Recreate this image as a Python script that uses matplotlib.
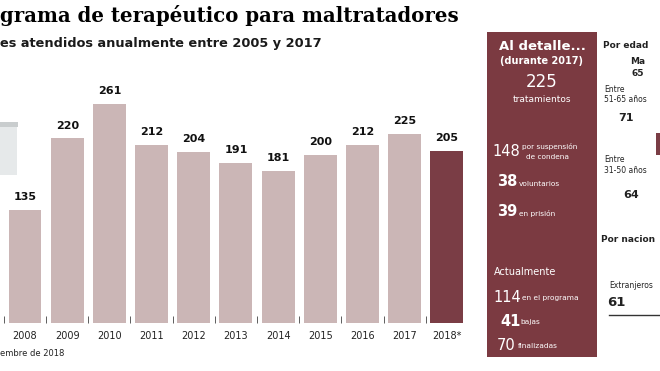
import matplotlib
matplotlib.use('Agg')
import matplotlib.pyplot as plt
from matplotlib.patches import Rectangle

# Datos
years = ['2008', '2009', '2010', '2011', '2012', '2013', '2014', '2015', '2016', '2017', '2018*']
values = [135, 220, 261, 212, 204, 191, 181, 200, 212, 225, 205]

light = '#cbb6b6'
dark = '#7a3d45'
panel = '#7b3a41'

W, H = 660, 371

def px(x, y):
    # coordenadas en pixeles (origen arriba a la izquierda) -> fraccion de figura
    return x / W, 1 - y / H

fig = plt.figure(figsize=(6.6, 3.71), dpi=100)
fig.patch.set_facecolor('white')

# Grafico de barras
ax = fig.add_axes([0, 48 / H, 470 / W, 263 / H])
colors = [light] * (len(values) - 1) + [dark]
x = list(range(len(values)))
ax.bar(x, values, width=0.78, color=colors)
for xi, v in zip(x, values):
    ax.text(xi, v + 9, str(v), ha='center', va='bottom', fontsize=8,
            fontweight='bold', color='#111111')
ax.set_xlim(-0.593, 10.55)
ax.set_ylim(0, 313)
ax.set_xticks(x)
ax.set_xticklabels(years, fontsize=7, color='#222222')
ax.set_xticks([i - 0.5 for i in x], minor=True)
ax.tick_params(axis='x', which='major', length=0, pad=6)
ax.tick_params(axis='x', which='minor', length=5, direction='in', color='#444444')
ax.set_yticks([])
for s in ax.spines.values():
    s.set_visible(False)

# Titulos
fig.text(*px(0, 15), 'grama de terapéutico para maltratadores', fontsize=14.2,
         fontweight='heavy', family='DejaVu Serif', va='center', ha='left', color='#000000')
fig.text(*px(0, 44), 'es atendidos anualmente entre 2005 y 2017', fontsize=9.3,
         fontweight='bold', va='center', ha='left', color='#1a1a1a')
fig.text(*px(0, 353), 'embre de 2018', fontsize=6, va='center', ha='left', color='#222222')

# Caja gris recortada a la izquierda
fig.patches.append(Rectangle(px(0, 175), 17 / W, 50 / H, transform=fig.transFigure,
                             facecolor='#e6e9ea', edgecolor='none'))
fig.patches.append(Rectangle(px(0, 127), 18 / W, 5 / H, transform=fig.transFigure,
                             facecolor='#c9cdce', edgecolor='none'))

# Panel "Al detalle..."
fig.patches.append(Rectangle(px(487, 357), 110 / W, 325 / H, transform=fig.transFigure,
                             facecolor=panel, edgecolor='none'))
wt = dict(color='white', va='center')
fig.text(*px(542, 46), 'Al detalle...', fontsize=9.5, fontweight='bold', ha='center', **wt)
fig.text(*px(542, 61), '(durante 2017)', fontsize=7, fontweight='bold', ha='center', **wt)
fig.text(*px(542, 82), '225', fontsize=12, ha='center', **wt)
fig.text(*px(542, 100), 'tratamientos', fontsize=6.5, ha='center', **wt)

fig.text(*px(492, 152), '148', fontsize=10.5, ha='left', **wt)
fig.text(*px(522, 147), 'por suspensión', fontsize=5.3, ha='left', **wt)
fig.text(*px(526, 157), 'de condena', fontsize=5.3, ha='left', **wt)
fig.text(*px(497, 182), '38', fontsize=10.5, fontweight='bold', ha='left', **wt)
fig.text(*px(519, 184), 'voluntarios', fontsize=5.3, ha='left', **wt)
fig.text(*px(497, 212), '39', fontsize=10.5, fontweight='bold', ha='left', **wt)
fig.text(*px(519, 214), 'en prisión', fontsize=5.3, ha='left', **wt)

fig.text(*px(494, 272), 'Actualmente', fontsize=7, ha='left', **wt)
fig.text(*px(493, 297), '114', fontsize=10.5, ha='left', **wt)
fig.text(*px(522, 298), 'en el programa', fontsize=5.3, ha='left', **wt)
fig.text(*px(500, 321), '41', fontsize=10.5, fontweight='bold', ha='left', **wt)
fig.text(*px(520, 322), 'bajas', fontsize=5.3, ha='left', **wt)
fig.text(*px(497, 345), '70', fontsize=10.5, ha='left', **wt)
fig.text(*px(518, 346), 'finalizadas', fontsize=5.3, ha='left', **wt)

# Columna derecha (recortada en el original)
kt = dict(color='#222222', va='center', ha='left')
fig.text(*px(603, 45), 'Por edad', fontsize=6.5, fontweight='bold', **kt)
fig.text(*px(630, 61), 'Ma', fontsize=6.5, fontweight='bold', **kt)
fig.text(*px(631, 73), '65', fontsize=6.5, fontweight='bold', **kt)
fig.text(*px(604, 89), 'Entre', fontsize=5.5, **kt)
fig.text(*px(604, 99), '51-65 años', fontsize=5.5, **kt)
fig.text(*px(618, 118), '71', fontsize=8, fontweight='bold', **kt)
fig.text(*px(604, 160), 'Entre', fontsize=5.5, **kt)
fig.text(*px(604, 171), '31-50 años', fontsize=5.5, **kt)
fig.text(*px(623, 195), '64', fontsize=8, fontweight='bold', **kt)
fig.text(*px(601, 240), 'Por nacion', fontsize=6.5, fontweight='bold', **kt)
fig.text(*px(609, 285), 'Extranjeros', fontsize=5.5, **kt)
fig.text(*px(607, 302), '61', fontsize=9.5, fontweight='bold', **kt)
fig.patches.append(Rectangle(px(656, 155), 6 / W, 22 / H, transform=fig.transFigure,
                             facecolor=dark, edgecolor='none'))
fig.add_artist(plt.Line2D([609 / W, 1], [1 - 315 / H] * 2, transform=fig.transFigure,
                          color='#333333', lw=1))

fig.savefig('out.png', dpi=100)
